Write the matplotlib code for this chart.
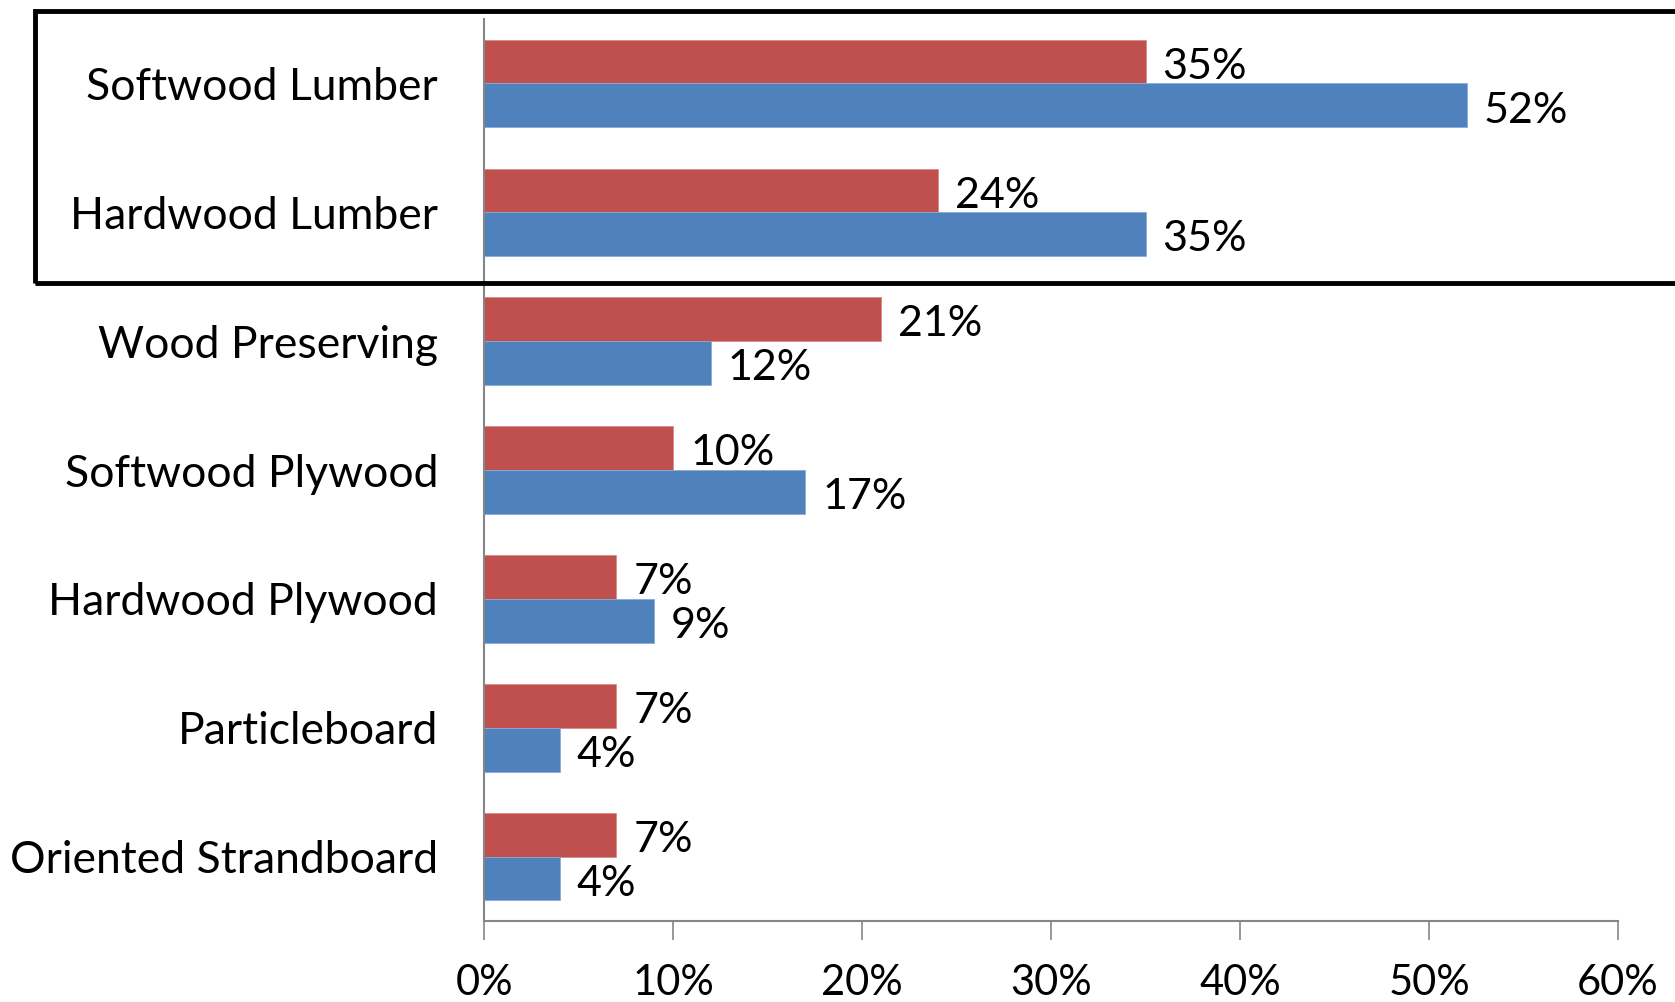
import matplotlib.pyplot as plt
import numpy as np
from matplotlib.patches import Rectangle

categories = ["Softwood Lumber", "Hardwood Lumber", "Wood Preserving",
              "Softwood Plywood", "Hardwood Plywood", "Particleboard",
              "Oriented Strandboard"]
red_vals = [35, 24, 21, 10, 7, 7, 7]
blue_vals = [52, 35, 12, 17, 9, 4, 4]
xticks = [0, 10, 20, 30, 40, 50, 60]

plt.rcParams['font.family'] = ['Lato', 'DejaVu Sans']

fig = plt.figure(figsize=(16.75, 10.02), dpi=100)
ax = fig.add_axes([0.289, 0.0808, 0.677, 0.9002])

y = np.arange(len(categories))
h = 0.34
ax.barh(y - h / 2, red_vals, height=h, color="#C0504D", edgecolor="#D88A88", linewidth=0.6)
ax.barh(y + h / 2, blue_vals, height=h, color="#4F81BD", edgecolor="#8AAAD6", linewidth=0.6)

for i in range(len(categories)):
    ax.text(red_vals[i] + 0.9, y[i] - h / 2 + 0.04, f"{red_vals[i]}%", va="center", ha="left", fontsize=31)
    ax.text(blue_vals[i] + 0.9, y[i] + h / 2 + 0.04, f"{blue_vals[i]}%", va="center", ha="left", fontsize=31)

ax.set_ylim(-0.5, len(categories) - 0.5)
ax.invert_yaxis()
ax.set_xlim(0, 60)
ax.set_xticks(xticks)
ax.set_xticklabels([f"{t}%" for t in xticks], fontsize=30)
ax.set_yticks(y)
ax.set_yticklabels(categories, fontsize=32)

for s in ["top", "right"]:
    ax.spines[s].set_visible(False)
for s in ["left", "bottom"]:
    ax.spines[s].set_color("#868686")
    ax.spines[s].set_linewidth(1.5)
ax.tick_params(axis="x", length=14, width=1.2, color="#868686", pad=17, direction="out")
ax.tick_params(axis="y", length=0, pad=33)

# frame around the two lumber rows
fig.add_artist(Rectangle((35 / 1675, 1 - 283 / 1002), 1.2, 272 / 1002,
                         transform=fig.transFigure, fill=False,
                         edgecolor="black", linewidth=3.5, clip_on=False))

fig.savefig("out.png", dpi=100)
